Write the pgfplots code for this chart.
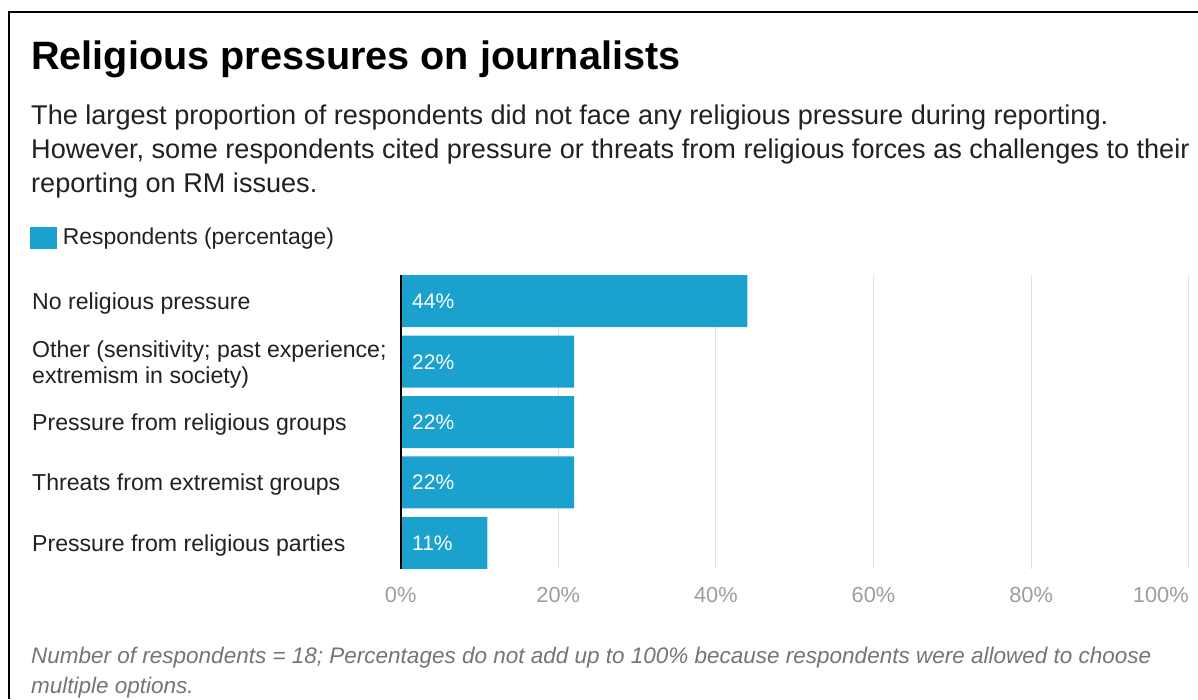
\documentclass[border=0pt]{standalone}
\usepackage{fontspec}
\setmainfont{Liberation Sans}
\usepackage{pgfplots}
\usepackage{pgfplotstable}
\pgfplotsset{compat=1.18}
\definecolor{barblue}{RGB}{26,161,206}
\definecolor{txt}{RGB}{33,33,33}
\definecolor{tickgray}{RGB}{158,158,158}
\definecolor{notegray}{RGB}{117,117,117}
\definecolor{gridgray}{RGB}{224,224,224}
\pgfplotstableread{
y val
0 44
1 22
2 22
3 22
4 11
}\datatable
\newcommand\fs[1]{\fontsize{#1}{#1}\selectfont}
\begin{document}
\begin{tikzpicture}[x=1pt,y=1pt]
\path[use as bounding box] (0,0) rectangle (1198,699);
\fill[white] (0,0) rectangle (1198,699);
\draw[black, line width=2pt] (9.3,0) -- (9.3,687) -- (1198,687);
\node[anchor=base west, inner sep=0pt, font={\fontsize{39.6}{39.6}\selectfont\bfseries}, text=black] at (31,629) {Religious pressures on journalists};
\node[anchor=base west, inner sep=0pt, font={\fs{27.1}}, text=txt] at (31,574.5) {The largest proportion of respondents did not face any religious pressure during reporting.};
\node[anchor=base west, inner sep=0pt, font={\fs{27.1}}, text=txt] at (31,540.5) {However, some respondents cited pressure or threats from religious forces as challenges to their};
\node[anchor=base west, inner sep=0pt, font={\fs{27.1}}, text=txt] at (31,506.5) {reporting on RM issues.};
\node[anchor=base west, inner sep=0pt, font={\fs{22.5}\itshape}, text=notegray] at (31,36) {Number of respondents = 18; Percentages do not add up to 100\% because respondents were allowed to choose};
\node[anchor=base west, inner sep=0pt, font={\fs{22.5}\itshape}, text=notegray] at (31,6) {multiple options.};
\begin{axis}[
  at={(400.7pt,130pt)}, anchor=south west,
  width=788pt, height=294pt, scale only axis,
  xmin=0, xmax=100, ymin=-0.43, ymax=4.43, y dir=reverse,
  axis line style={draw=none},
  major tick length=0pt,
  xtick={0,20,40,60,80,100},
  xticklabels={0\%,20\%,40\%,60\%,80\%,\llap{100\%}},
  xticklabel style={anchor=base, yshift=-33pt, inner sep=0pt, font={\fs{21.8}}, text=tickgray},
  xmajorgrids, major grid style={gridgray, line width=1pt},
  ytick={0,1,2,3,4},
  yticklabels={{No religious pressure},
    {\raisebox{12.6pt}{\fontsize{23.1}{26.6}\selectfont\begin{tabular}[t]{@{}l@{}}Other (sensitivity; past experience;\\extremism in society)\end{tabular}}},
    {Pressure from religious groups},{Threats from extremist groups},{Pressure from religious parties}},
  yticklabel style={anchor=base west, xshift=-368.7pt, yshift=-8.3pt, inner sep=0pt, font={\fs{23.1}}, text=txt},
  legend style={at={(axis description cs:-0.4704,1.1643)}, anchor=north west, draw=none, fill=none, inner sep=0pt, font={\fs{22.9}}, text=txt, legend cell align=left, nodes={inner sep=0pt}, /tikz/every odd column/.append style={column sep=6pt}},
  legend image code/.code={\fill[barblue] (0pt,-12.9pt) rectangle (26.6pt,9.7pt);},
  /pgf/number format/assume math mode=true,
  clip=false,
]
\addplot[xbar, fill=barblue, draw=none, bar width=52pt] table[x=val, y=y] {\datatable};
\addlegendentry{Respondents (percentage)}
\addplot[draw=none, mark=none, forget plot, point meta=explicit,
  nodes near coords={\pgfmathprintnumber{\pgfplotspointmeta}\%},
  every node near coord/.append style={anchor=base west, xshift=11.3pt, yshift=-7.5pt, inner sep=0pt, font={\fs{21}}, text=white}]
  table[x expr=0, y=y, meta=val] {\datatable};
\draw[black, line width=2pt] (axis cs:0,-0.43) -- (axis cs:0,4.43);
\end{axis}
\end{tikzpicture}
\end{document}
